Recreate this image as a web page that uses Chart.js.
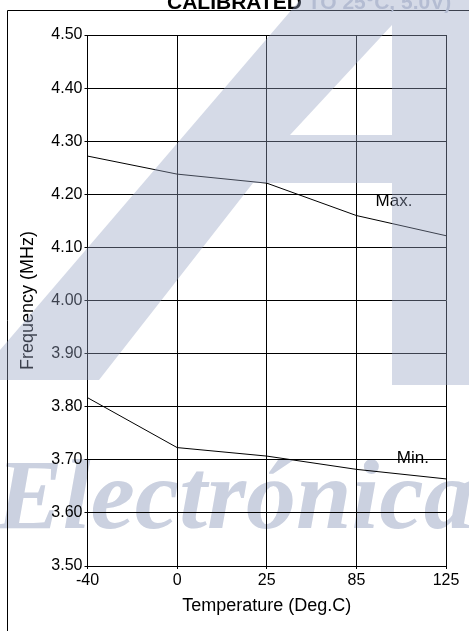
<!DOCTYPE html>
<html><head><meta charset="utf-8">
<script src="https://cdn.jsdelivr.net/npm/chart.js@4/dist/chart.umd.min.js"></script>
<style>html,body{margin:0;padding:0;background:#fff;}canvas{display:block}</style>
</head><body>
<canvas id="c" width="469" height="631"></canvas>
<script>
const temperatures = ['-40', '0', '25', '85', '125'];
const maxFreq = [4.272, 4.238, 4.221, 4.160, 4.122];
const minFreq = [3.817, 3.723, 3.707, 3.682, 3.664];
const curveLabels = ['Max.', 'Min.'];
const titleBold = 'CALIBRATED';
const titleRest = ' TO 25°C, 5.0V)';
const xTitle = 'Temperature (Deg.C)';
const yTitle = 'Frequency (MHz)';
const watermarkText = 'Electrónica';
const yMin = 3.5, yMax = 4.5, yStep = 0.1;

const FONT = '"Liberation Sans", Arial, sans-serif';

const decor = {
  id: 'decor',
  beforeDraw(chart) {
    const ctx = chart.ctx;
    ctx.save();
    ctx.fillStyle = '#fff';
    ctx.fillRect(0, 0, chart.width, chart.height);
    // watermark word (under the grid)
    ctx.fillStyle = 'rgb(203,209,224)';
    ctx.font = 'italic bold 100px "Liberation Serif", serif';
    ctx.textBaseline = 'alphabetic';
    ctx.textAlign = 'left';
    ctx.fillText(watermarkText, -4, 528);
    // frame
    ctx.strokeStyle = '#000';
    ctx.lineWidth = 1;
    ctx.beginPath();
    ctx.moveTo(7.5, chart.height);
    ctx.lineTo(7.5, 10.5);
    ctx.lineTo(chart.width, 10.5);
    ctx.stroke();
    ctx.restore();
  },
  afterDatasetsDraw(chart) {
    const ctx = chart.ctx;
    const xs = chart.scales.x, ys = chart.scales.y;
    ctx.save();
    ctx.fillStyle = '#000';
    ctx.font = '17px ' + FONT;
    ctx.textAlign = 'center';
    ctx.textBaseline = 'middle';
    const x3 = xs.getPixelForValue(3), x4 = xs.getPixelForValue(4);
    ctx.fillText(curveLabels[0], x3 + (x4 - x3) * 0.42, ys.getPixelForValue(4.187));
    ctx.fillText(curveLabels[1], x3 + (x4 - x3) * 0.63, ys.getPixelForValue(3.703));
    ctx.restore();
  },
  afterDraw(chart) {
    const ctx = chart.ctx;
    ctx.save();
    // title
    ctx.textBaseline = 'alphabetic';
    ctx.textAlign = 'left';
    ctx.font = 'bold 21px ' + FONT;
    ctx.fillStyle = '#000';
    ctx.fillText(titleBold, 167, 9);
    const w = ctx.measureText(titleBold).width;
    ctx.fillStyle = 'rgb(200,206,221)';
    ctx.fillText(titleRest, 167 + w, 9);
    // watermark "A" overlay
    ctx.fillStyle = 'rgba(150,162,195,0.4)';
    ctx.beginPath();
    ctx.moveTo(300, 0);
    ctx.lineTo(469, 0);
    ctx.lineTo(469, 385);
    ctx.lineTo(392, 385);
    ctx.lineTo(392, 183);
    ctx.lineTo(253, 183);
    ctx.lineTo(99, 380);
    ctx.lineTo(0, 380);
    ctx.lineTo(0, 350);
    ctx.closePath();
    ctx.moveTo(392, 25);
    ctx.lineTo(392, 135);
    ctx.lineTo(290, 135);
    ctx.closePath();
    ctx.fill('evenodd');
    ctx.restore();
  }
};

new Chart(document.getElementById('c'), {
  type: 'line',
  data: {
    labels: temperatures,
    datasets: [
      { label: curveLabels[0], data: maxFreq, borderColor: '#000', borderWidth: 1, pointRadius: 0, tension: 0, fill: false },
      { label: curveLabels[1], data: minFreq, borderColor: '#000', borderWidth: 1, pointRadius: 0, tension: 0, fill: false }
    ]
  },
  options: {
    responsive: false,
    animation: false,
    devicePixelRatio: 1,
    layout: { padding: { left: 0, right: 23, top: 35, bottom: 14 } },
    plugins: { legend: { display: false }, tooltip: { enabled: false } },
    scales: {
      x: {
        type: 'category',
        offset: false,
        grid: { color: '#000', lineWidth: 1, tickLength: 3, drawTicks: true },
        border: { color: '#000', width: 1 },
        ticks: { color: '#000', font: { family: FONT, size: 16 }, padding: 2, maxRotation: 0, autoSkip: false },
        title: { display: true, text: xTitle, color: '#000', font: { family: FONT, size: 18 }, padding: { top: 0, bottom: 0 } },
        afterFit(s) { s.height = 51; }
      },
      y: {
        min: yMin, max: yMax,
        grid: { color: '#000', lineWidth: 1, tickLength: 3, drawTicks: true },
        border: { color: '#000', width: 1 },
        ticks: { stepSize: yStep, color: '#000', font: { family: FONT, size: 16 }, padding: 2, callback: v => Number(v).toFixed(2) },
        title: { display: true, text: yTitle, color: '#000', font: { family: FONT, size: 18 }, padding: { top: 17, bottom: 0 } },
        afterFit(s) { s.width = 87.5; }
      }
    }
  },
  plugins: [decor]
});
</script>
</body></html>
